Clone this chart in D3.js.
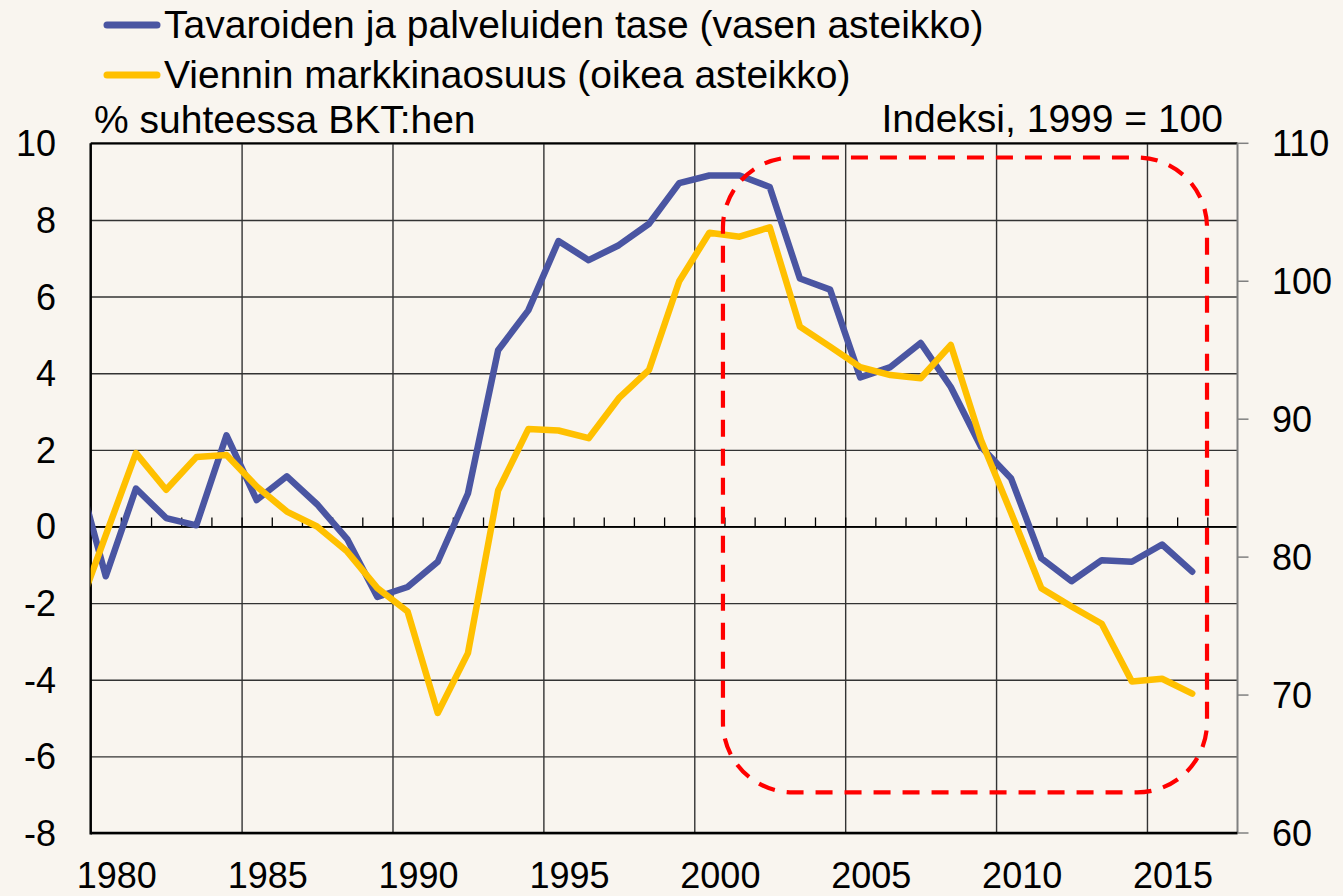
<!DOCTYPE html>
<html>
<head>
<meta charset="utf-8">
<script src="https://cdn.jsdelivr.net/npm/d3@7"></script>
<style>
  body { margin: 0; background: #f9f5ef; }
  svg { display: block; font-family: Arial, "Liberation Sans", sans-serif; }
</style>
</head>
<body>
<svg class="chart" width="1343" height="896"></svg>
<script>
const years = [1979, 1980, 1981, 1982, 1983, 1984, 1985, 1986, 1987, 1988, 1989,
  1990, 1991, 1992, 1993, 1994, 1995, 1996, 1997, 1998, 1999,
  2000, 2001, 2002, 2003, 2004, 2005, 2006, 2007, 2008, 2009,
  2010, 2011, 2012, 2013, 2014, 2015, 2016]

// tavaroiden ja palveluiden tase, % BKT (left)
const balance = [1.6, -1.3, 0.99, 0.22, 0.03, 2.38, 0.69, 1.31, 0.58, -0.33, -1.84,
  -1.58, -0.92, 0.86, 4.6, 5.64, 7.45, 6.95, 7.34, 7.9, 8.96,
  9.16, 9.16, 8.86, 6.47, 6.18, 3.89, 4.16, 4.79, 3.64, 2.08,
  1.25, -0.83, -1.43, -0.88, -0.92, -0.47, -1.18]

// viennin markkinaosuus, 1999 = 100 (right)
const share = [75.6, 81.6, 87.54, 84.88, 87.25, 87.41, 85.12, 83.3, 82.22, 80.4, 77.75,
  76.06, 68.7, 73.04, 84.83, 89.28, 89.18, 88.62, 91.52, 93.57, 100,
  103.52, 103.23, 103.91, 96.71, 95.26, 93.77, 93.2, 92.97, 95.38, 88.5,
  83.2, 77.75, 76.42, 75.17, 70.99, 71.18, 70.1]

const xLabels = [1980, 1985, 1990, 1995, 2000, 2005, 2010, 2015]
const leftTicks = [-8, -6, -4, -2, 0, 2, 4, 6, 8, 10]
const rightTicks = [60, 70, 80, 90, 100, 110]

const seriesNames = ["Tavaroiden ja palveluiden tase (vasen asteikko)",
  "Viennin markkinaosuus (oikea asteikko)"]
const seriesColors = ["#4a55a2", "#ffc000"]

// highlighted period (years / left-axis values)
const boxYears = [2000.45, 2016.49]
const boxValues = [9.63, -6.94]

const svg = d3.select("svg.chart")

const plotLeft = 90.7, plotRight = 1237.5, plotTop = 143.3, plotBottom = 833

const x = d3.scaleLinear().domain([1979.5, 2017.5]).range([plotLeft, plotRight])
const yL = d3.scaleLinear().domain([-8, 10]).range([plotBottom, plotTop])
const yR = d3.scaleLinear().domain([60, 110]).range([plotBottom, plotTop])

svg.append("rect")
  .attr("width", 1343).attr("height", 896)
  .attr("fill", "#f9f5ef")

svg.append("clipPath").attr("id", "plot")
  .append("rect")
  .attr("x", plotLeft).attr("y", plotTop)
  .attr("width", plotRight - plotLeft).attr("height", plotBottom - plotTop)

// horizontal grid
svg.append("g")
  .attr("transform", `translate(${plotLeft},0)`)
  .call(d3.axisLeft(yL).tickValues(leftTicks).tickSize(-(plotRight - plotLeft)).tickFormat(""))
  .call(g => g.select(".domain").remove())
  .selectAll("line").attr("stroke", "#333").attr("stroke-width", 1.4)

// vertical grid every 5 years (between categories)
svg.append("g")
  .attr("transform", `translate(0,${plotTop})`)
  .call(d3.axisBottom(x).tickValues(xLabels.slice(1).map(d => d - 0.5)).tickSize(plotBottom - plotTop).tickFormat(""))
  .call(g => g.select(".domain").remove())
  .selectAll("line").attr("stroke", "#333").attr("stroke-width", 1.4)

// zero line with year ticks
svg.append("g")
  .attr("transform", `translate(0,${yL(0)})`)
  .call(d3.axisTop(x).tickValues(years.slice(1).map(d => d + 0.5)).tickSize(9).tickFormat("").tickSizeOuter(0))
  .call(g => g.select(".domain").attr("stroke", "#000").attr("stroke-width", 1.8))
  .selectAll("line").attr("stroke", "#000").attr("stroke-width", 1.3)

// frame
svg.append("line").attr("x1", plotLeft).attr("x2", plotRight).attr("y1", plotTop).attr("y2", plotTop)
  .attr("stroke", "#000").attr("stroke-width", 2)
svg.append("line").attr("x1", plotRight).attr("x2", plotRight).attr("y1", plotTop).attr("y2", plotBottom)
  .attr("stroke", "#808080").attr("stroke-width", 2)
svg.append("line").attr("x1", plotLeft).attr("x2", plotLeft).attr("y1", plotTop).attr("y2", plotBottom + 1.5)
  .attr("stroke", "#000").attr("stroke-width", 2.5)
svg.append("line").attr("x1", plotLeft).attr("x2", plotRight).attr("y1", plotBottom).attr("y2", plotBottom)
  .attr("stroke", "#000").attr("stroke-width", 2.5)

// right axis ticks
svg.append("g")
  .selectAll("line")
  .data(rightTicks)
  .enter()
  .append("line")
  .attr("x1", plotRight).attr("x2", plotRight + 11)
  .attr("y1", d => yR(d)).attr("y2", d => yR(d))
  .attr("stroke", "#808080").attr("stroke-width", 1.5)

// tick labels
svg.append("g")
  .selectAll("text")
  .data(leftTicks)
  .enter()
  .append("text")
  .attr("x", 56)
  .attr("y", d => yL(d) + 13)
  .attr("text-anchor", "end")
  .attr("font-size", 36)
  .text(d => d)

svg.append("g")
  .selectAll("text")
  .data(rightTicks)
  .enter()
  .append("text")
  .attr("x", 1272)
  .attr("y", d => yR(d) + 13)
  .attr("font-size", 36)
  .text(d => d)

svg.append("g")
  .selectAll("text")
  .data(xLabels)
  .enter()
  .append("text")
  .attr("x", d => x(d) + 11)
  .attr("y", 888)
  .attr("text-anchor", "middle")
  .attr("font-size", 36)
  .text(d => d)

// lines
const lineL = d3.line().x((d, i) => x(years[i])).y(d => yL(d))
const lineR = d3.line().x((d, i) => x(years[i])).y(d => yR(d))

const plot = svg.append("g").attr("clip-path", "url(#plot)")

plot.append("path")
  .datum(balance)
  .attr("d", lineL)
  .attr("fill", "none")
  .attr("stroke", seriesColors[0])
  .attr("stroke-width", 6.5)
  .attr("stroke-linejoin", "round")
  .attr("stroke-linecap", "round")

plot.append("path")
  .datum(share)
  .attr("d", lineR)
  .attr("fill", "none")
  .attr("stroke", seriesColors[1])
  .attr("stroke-width", 6.5)
  .attr("stroke-linejoin", "round")
  .attr("stroke-linecap", "round")

// dashed highlight box
svg.append("rect")
  .attr("x", x(boxYears[0]))
  .attr("y", yL(boxValues[0]))
  .attr("width", x(boxYears[1]) - x(boxYears[0]))
  .attr("height", yL(boxValues[1]) - yL(boxValues[0]))
  .attr("rx", 70).attr("ry", 70)
  .attr("fill", "none")
  .attr("stroke", "#ff0000")
  .attr("stroke-width", 4.2)
  .attr("stroke-dasharray", "17 12")

// legend
const legend = svg.append("g")
  .selectAll("g")
  .data(seriesNames)
  .enter()
  .append("g")
  .attr("transform", (d, i) => `translate(0, ${25 + i * 50})`)

legend.append("line")
  .attr("x1", 107).attr("x2", 157)
  .attr("stroke", (d, i) => seriesColors[i])
  .attr("stroke-width", 7)
  .attr("stroke-linecap", "round")

legend.append("text")
  .attr("x", 164)
  .attr("y", 13)
  .attr("font-size", 39)
  .text(d => d)

// axis titles
svg.append("text")
  .attr("x", 94).attr("y", 133)
  .attr("font-size", 39)
  .text("% suhteessa BKT:hen")

svg.append("text")
  .attr("x", 1223).attr("y", 132)
  .attr("text-anchor", "end")
  .attr("font-size", 39)
  .text("Indeksi, 1999 = 100")
</script>
</body>
</html>
